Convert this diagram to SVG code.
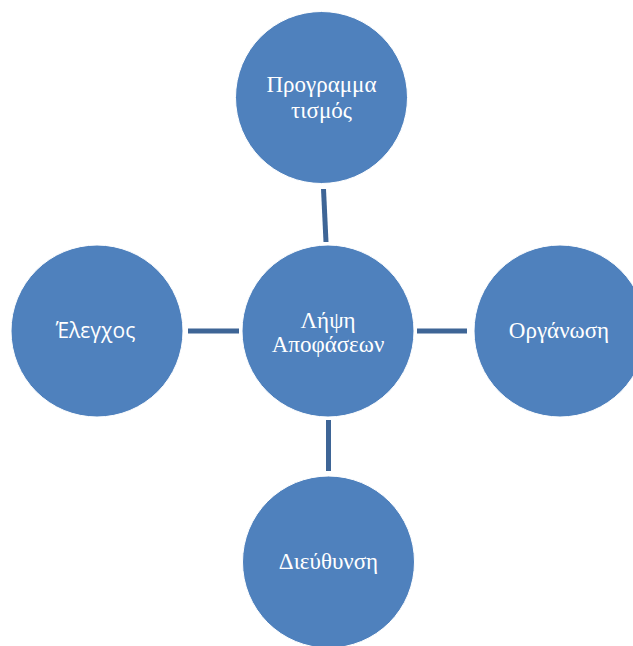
<svg xmlns="http://www.w3.org/2000/svg" width="633" height="646" viewBox="0 0 633 646">
  <style>
    .node { fill: #4F81BD; stroke: #ffffff; stroke-width: 1; }
    .link { stroke: #3E6596; stroke-width: 5; fill: none; }
    .lbl { fill: #ffffff; font-family: "Liberation Serif", "Times New Roman", serif; font-size: 23px; text-anchor: middle; }
    .lbl-sans { fill: #ffffff; font-family: "Open Sans", "Liberation Sans", sans-serif; font-size: 21px; text-anchor: middle; }
  </style>
  <rect width="633" height="646" fill="#ffffff"/>
  <g id="connectors">
    <line class="link" x1="323.5" y1="189" x2="326" y2="242"/>
    <line class="link" x1="188" y1="331" x2="239" y2="331"/>
    <line class="link" x1="417" y1="331" x2="467" y2="331"/>
    <line class="link" x1="328.5" y1="420" x2="328.5" y2="471"/>
  </g>
  <g id="programmatismos">
    <circle class="node" cx="321.5" cy="97.5" r="86"/>
    <text class="lbl" x="321.5" y="92">Προγραμμα</text>
    <text class="lbl" x="321.5" y="118">τισμός</text>
  </g>
  <g id="lipsi-apofaseon">
    <circle class="node" cx="328" cy="331" r="86"/>
    <text class="lbl" x="328" y="328">Λήψη</text>
    <text class="lbl" x="328" y="352">Αποφάσεων</text>
  </g>
  <g id="elegxos">
    <circle class="node" cx="97" cy="331" r="86"/>
    <text class="lbl-sans" x="95.5" y="338">Έλεγχος</text>
  </g>
  <g id="organosi">
    <circle class="node" cx="560" cy="331" r="86"/>
    <text class="lbl" x="559" y="338">Οργάνωση</text>
  </g>
  <g id="dieythynsi">
    <circle class="node" cx="328.5" cy="562" r="86"/>
    <text class="lbl" x="328.5" y="569">Διεύθυνση</text>
  </g>
</svg>
